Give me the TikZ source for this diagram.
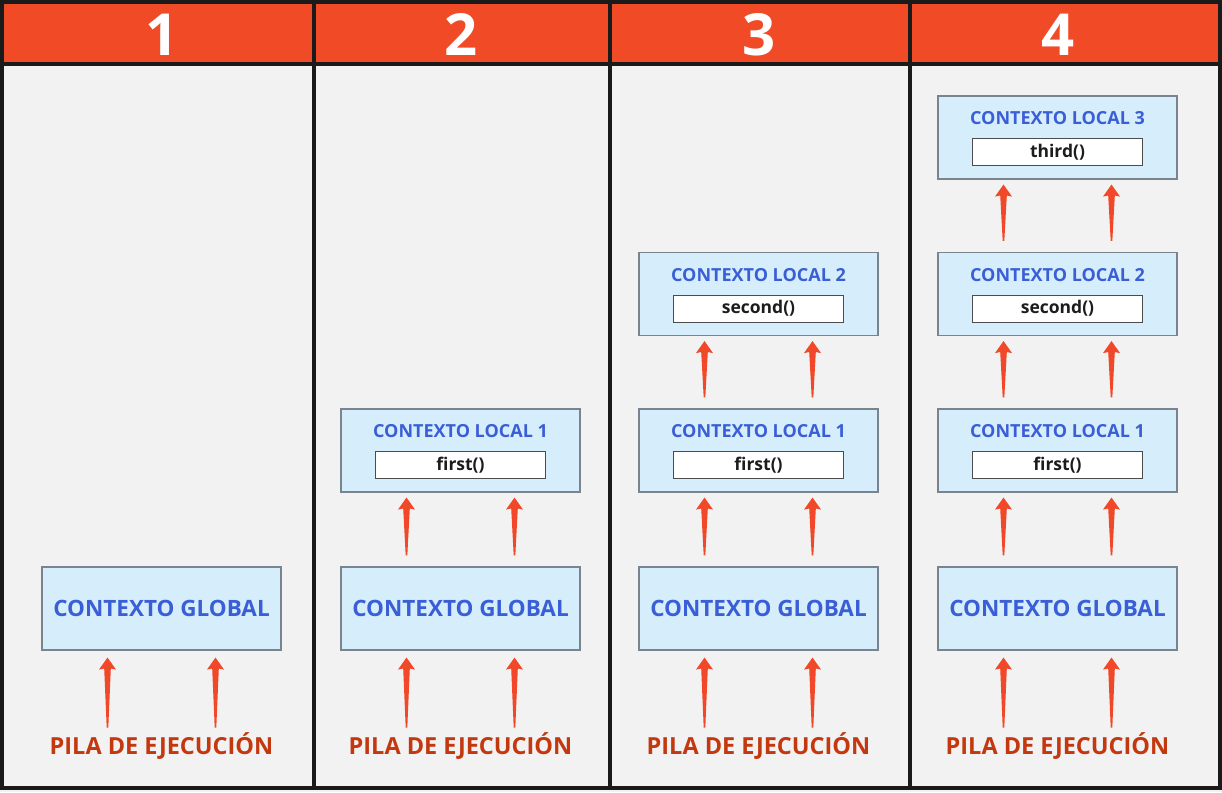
\documentclass[tikz,border=0pt]{standalone}
\usepackage{fontspec}
\setmainfont{Open Sans}
\usetikzlibrary{calc}

\definecolor{hdrred}{RGB}{240,74,38}
\definecolor{arrowred}{RGB}{240,72,40}
\definecolor{pilared}{RGB}{196,56,16}
\definecolor{ctxblue}{RGB}{58,94,214}
\definecolor{ctxfill}{RGB}{214,238,252}
\definecolor{ctxline}{RGB}{122,132,142}
\definecolor{panelbg}{RGB}{242,242,242}
\definecolor{framecol}{RGB}{26,26,26}
\definecolor{funcink}{RGB}{28,28,28}

\tikzset{
  frame/.style={draw=framecol, line width=4pt},
  ctx/.style={draw=ctxline, fill=ctxfill, line width=1.1pt,
              minimum width=239pt, minimum height=83pt, inner sep=0pt},
  globaltxt/.style={text=ctxblue, font=\fontsize{22.5}{26}\selectfont\bfseries},
  localtxt/.style={text=ctxblue, font=\fontsize{18}{21}\selectfont\bfseries},
  funcbox/.style={draw=black!70, fill=white, line width=0.9pt,
                  minimum width=170pt, minimum height=27pt, inner sep=0pt,
                  text=funcink, font=\fontsize{17.5}{20}\selectfont\bfseries},
  pilatxt/.style={text=pilared, font=\fontsize{23.5}{27}\selectfont\bfseries},
  hdrnum/.style={text=white, font=\fontsize{58}{60}\selectfont\bfseries},
}

% tapered arrow: thin tail at #1, head tip at #2 (y grows downward)
\newcommand\taper[2]{%
  \fill[arrowred] ($(#1)+(-0.8,0)$) -- ($(#1)+(0.8,0)$)
    -- ($(#2)+(3.3,11)$) -- ($(#2)+(8.5,12)$) -- (#2)
    -- ($(#2)+(-8.5,12)$) -- ($(#2)+(-3.3,11)$) -- cycle;}

% local context box with its title and function call
\newcommand\localbox[5]{%
  \node[ctx] (#1) at (#2,#3) {};
  \node[localtxt] (#1-t) at ($(#1.north)+(0,23)$) {#4};
  \node[funcbox] (#1-f) at ($(#1.north)+(0,56.5)$) {#5};}

% two arrows from the top of #1 up to the bottom of #2
\newcommand\stackarrows[2]{%
  \coordinate (#1-lt) at ($(#1.north)+(-54,-11)$);
  \coordinate (#1-rt) at ($(#1.north)+(54,-11)$);
  \coordinate (#2-lh) at ($(#2.south)+(-54,5)$);
  \coordinate (#2-rh) at ($(#2.south)+(54,5)$);
  \taper{#1-lt}{#2-lh}\taper{#1-rt}{#2-rh}}

\begin{document}
\begin{tikzpicture}[x=1pt,y=-1pt]
\useasboundingbox (0,0) rectangle (1222,792);
\fill[panelbg] (0,0) rectangle (1222,792);
\fill[hdrred] (2,2) rectangle (1220,63.5);

% column frame
\draw[frame] (2,2) rectangle (1220,788);
\draw[frame] (2,63.5) -- (1220,63.5);
\foreach \x in {313.5,610,909.5} \draw[frame] (\x,2) -- (\x,788);

% column numbers, global contexts and execution stack labels
\foreach \i/\cx in {1/161.5,2/460.5,3/758.5,4/1057.5}{
  \node[hdrnum] (N\i) at (\cx+0.5,35) {\i};
  \node[ctx, globaltxt] (G\i) at (\cx,608.5) {CONTEXTO GLOBAL};
  \node[pilatxt] (P\i) at (\cx,746) {PILA DE EJECUCIÓN};
  \coordinate (P\i-l) at ($(G\i.south)+(-54,77)$);
  \coordinate (P\i-r) at ($(G\i.south)+(54,77)$);
  \coordinate (G\i-lh) at ($(G\i.south)+(-54,7)$);
  \coordinate (G\i-rh) at ($(G\i.south)+(54,7)$);
  \taper{P\i-l}{G\i-lh}
  \taper{P\i-r}{G\i-rh}
}

% column 2
\localbox{A1}{460.5}{450.5}{CONTEXTO LOCAL 1}{first()}
\stackarrows{G2}{A1}

% column 3
\localbox{B1}{758.5}{450.5}{CONTEXTO LOCAL 1}{first()}
\localbox{B2}{758.5}{294}{CONTEXTO LOCAL 2}{second()}
\stackarrows{G3}{B1}
\stackarrows{B1}{B2}

% column 4
\localbox{C1}{1057.5}{450.5}{CONTEXTO LOCAL 1}{first()}
\localbox{C2}{1057.5}{294}{CONTEXTO LOCAL 2}{second()}
\localbox{C3}{1057.5}{137.5}{CONTEXTO LOCAL 3}{third()}
\stackarrows{G4}{C1}
\stackarrows{C1}{C2}
\stackarrows{C2}{C3}
\end{tikzpicture}
\end{document}
